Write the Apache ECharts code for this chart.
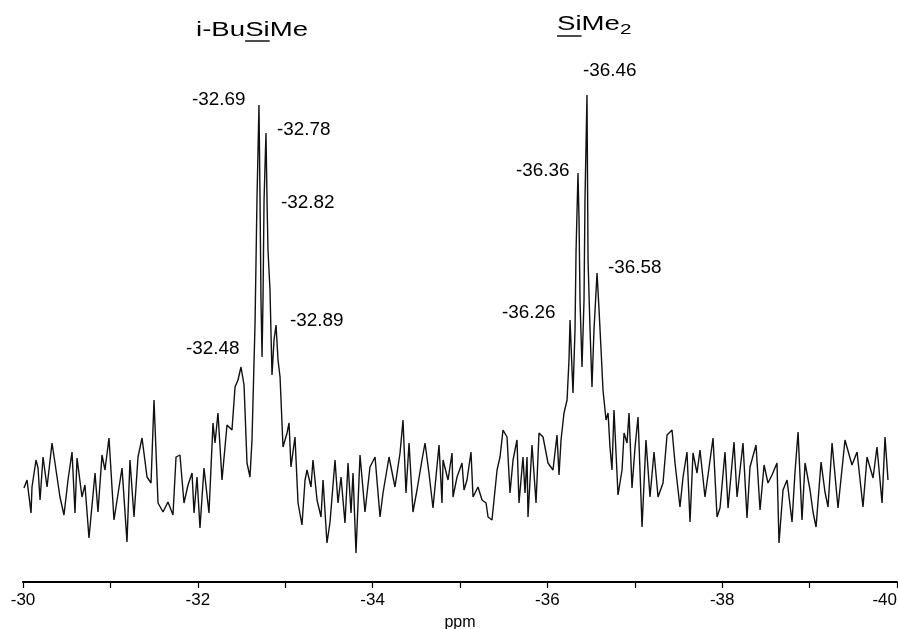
<!DOCTYPE html>
<html>
<head>
<meta charset="utf-8">
<script src="https://cdn.jsdelivr.net/npm/echarts@6/dist/echarts.min.js"></script>
<style>html,body{margin:0;padding:0;background:#fff}#c{width:898px;height:629px}</style>
</head>
<body>
<div id="c"></div>
<script>
// chemical shift (ppm)
const ppm = [
-30.011,-30.046,-30.092,-30.103,-30.149,-30.172,-30.195,-30.229,-30.275,-30.332,
-30.366,-30.423,-30.469,-30.515,-30.561,-30.595,-30.618,-30.675,-30.709,-30.755,
-30.824,-30.858,-30.904,-30.938,-30.984,-31.041,-31.133,-31.190,-31.224,-31.270,
-31.316,-31.362,-31.419,-31.465,-31.499,-31.545,-31.602,-31.659,-31.716,-31.751,
-31.796,-31.842,-31.888,-31.934,-31.957,-31.991,-32.025,-32.071,-32.128,-32.174,
-32.197,-32.231,-32.277,-32.334,-32.391,-32.426,-32.460,-32.494,-32.529,-32.563,
-32.597,-32.620,-32.655,-32.677,-32.700,-32.712,-32.723,-32.735,-32.746,-32.758,
-32.780,-32.792,-32.803,-32.826,-32.849,-32.872,-32.895,-32.918,-32.941,-32.975,
-32.998,-33.021,-33.044,-33.066,-33.112,-33.147,-33.192,-33.227,-33.250,-33.295,
-33.318,-33.364,-33.410,-33.433,-33.478,-33.513,-33.570,-33.604,-33.639,-33.684,
-33.719,-33.753,-33.776,-33.810,-33.856,-33.913,-33.970,-34.028,-34.085,-34.119,
-34.188,-34.256,-34.314,-34.348,-34.382,-34.417,-34.462,-34.508,-34.565,-34.600,
-34.645,-34.691,-34.760,-34.794,-34.806,-34.863,-34.909,-34.920,-34.966,-35.023,
-35.046,-35.080,-35.126,-35.149,-35.206,-35.252,-35.298,-35.321,-35.366,-35.424,
-35.458,-35.492,-35.538,-35.572,-35.607,-35.652,-35.675,-35.721,-35.744,-35.767,
-35.778,-35.824,-35.870,-35.904,-35.950,-36.007,-36.064,-36.110,-36.133,-36.156,
-36.190,-36.225,-36.247,-36.259,-36.282,-36.293,-36.316,-36.328,-36.350,-36.362,
-36.373,-36.396,-36.419,-36.430,-36.453,-36.465,-36.488,-36.510,-36.533,-36.568,
-36.591,-36.614,-36.636,-36.671,-36.694,-36.716,-36.739,-36.762,-36.808,-36.854,
-36.877,-36.911,-36.934,-36.968,-37.003,-37.037,-37.083,-37.128,-37.174,-37.220,
-37.266,-37.323,-37.369,-37.426,-37.460,-37.517,-37.552,-37.597,-37.632,-37.666,
-37.712,-37.746,-37.803,-37.838,-37.895,-37.941,-37.975,-38.032,-38.067,-38.135,
-38.170,-38.238,-38.284,-38.318,-38.387,-38.433,-38.479,-38.524,-38.570,-38.627,
-38.650,-38.696,-38.742,-38.799,-38.833,-38.868,-38.913,-38.948,-39.005,-39.039,
-39.074,-39.131,-39.176,-39.211,-39.257,-39.325,-39.405,-39.485,-39.543,-39.611,
-39.657,-39.726,-39.771,-39.829,-39.863,-39.897
];
// signal intensity (arbitrary units) at each ppm point
const intensity = [
94,102,69,95,122,114,82,125,95,139,
119,85,67,102,130,69,124,85,97,44,
109,70,127,112,144,62,114,40,122,65,
125,144,105,99,182,79,70,80,67,125,
127,79,97,109,69,105,54,114,69,159,
139,169,102,157,152,195,202,215,197,119,
105,142,259,382,477,382,282,225,282,382,
449,382,332,292,207,242,257,222,205,135,
142,149,159,115,145,79,57,102,112,95,
122,82,65,102,39,60,122,79,105,59,
119,69,109,29,127,70,115,125,65,89,
125,95,129,162,89,139,70,92,122,139,
109,74,137,79,122,102,129,85,105,119,
92,102,130,85,95,82,79,65,62,112,
125,152,145,89,122,142,79,125,89,125,
65,137,79,149,145,119,112,147,107,142,
169,182,222,262,212,189,252,332,409,362,
282,215,282,382,487,322,252,195,252,309,
272,232,192,162,169,135,112,172,87,112,
149,139,169,94,135,165,55,142,85,130,
85,99,147,152,119,75,105,130,60,129,
109,132,85,107,144,65,74,130,74,140,
85,139,64,115,137,72,117,99,107,119,
39,92,102,60,110,150,62,119,92,70,
55,120,90,75,139,74,142,117,130,75,
125,104,135,79,145,102
];
// x-axis
const axisMin = -40, axisMax = -30, tickStep = 1;
const axisName = 'ppm';
// annotations
const peakLabels = ['-32.69','-32.78','-32.82','-32.89','-32.48','-36.46','-36.36','-36.58','-36.26'];

const FONT = '"Liberation Sans", Arial, Helvetica, sans-serif';
const labelPos = [[192,100],[277,130],[281,203],[290,321],[186,349],[583,71],[516,171],[608,268],[502,313]];

const chart = echarts.init(document.getElementById('c'), null, {renderer:'canvas'});
const graphics = peakLabels.map((t,i)=>({
  type:'text', x:labelPos[i][0], y:labelPos[i][1], scaleX:1.05,
  style:{text:t, x:0, y:0, fill:'#000', font:'18px '+FONT, align:'left', verticalAlign:'middle'}
}));
// title i-BuSiMe with underlined Si
graphics.push({
  type:'group', x:196, y:30, scaleX:1.38,
  children:[
    {type:'text', style:{text:'i-Bu', x:0, y:0, fill:'#000', font:'20px '+FONT, verticalAlign:'middle'}},
    {type:'text', style:{text:'Si', x:35.6, y:0, fill:'#000', font:'20px '+FONT, verticalAlign:'middle'}},
    {type:'text', style:{text:'Me', x:53.4, y:0, fill:'#000', font:'20px '+FONT, verticalAlign:'middle'}},
    {type:'line', shape:{x1:35.6, y1:11, x2:53.4, y2:11}, style:{stroke:'#000', lineWidth:1.4}}
  ]
});
graphics.push({
  type:'group', x:557, y:24, scaleX:1.38,
  children:[
    {type:'text', style:{text:'Si', x:0, y:0, fill:'#000', font:'20px '+FONT, verticalAlign:'middle'}},
    {type:'text', style:{text:'Me', x:17.8, y:0, fill:'#000', font:'20px '+FONT, verticalAlign:'middle'}},
    {type:'text', style:{text:'2', x:45.6, y:6, fill:'#000', font:'15px '+FONT, verticalAlign:'middle'}},
    {type:'line', shape:{x1:0, y1:12, x2:17.8, y2:12}, style:{stroke:'#000', lineWidth:1.4}}
  ]
});

chart.setOption({
  animation:false,
  backgroundColor:'#fff',
  grid:{left:23, right:1, top:0, bottom:47, outerBoundsMode:'none', containLabel:false},
  xAxis:{
    type:'value', min:axisMin, max:axisMax, interval:tickStep, inverse:true,
    name:axisName, nameLocation:'middle', nameGap:33,
    nameTextStyle:{color:'#000', fontSize:16, fontFamily:FONT},
    axisLine:{show:true, onZero:false, lineStyle:{color:'#000', width:2}},
    axisTick:{show:true, length:6, lineStyle:{color:'#000', width:1.2}},
    axisLabel:{color:'#000', fontSize:17, fontFamily:FONT, margin:10,
      alignMinLabel:'right', alignMaxLabel:'center',
      formatter:v=> (Math.round(v)%2===0 ? String(Math.round(v)) : ''), showMinLabel:true, showMaxLabel:true},
    splitLine:{show:false}
  },
  yAxis:{type:'value', min:0, max:582, show:false, splitLine:{show:false}},
  series:[{
    type:'line', data:ppm.map((p,i)=>[p,intensity[i]]), symbol:'none',
    lineStyle:{color:'#111', width:1.4}, smooth:false, silent:true
  }],
  graphic:graphics
});
</script>
</body>
</html>
